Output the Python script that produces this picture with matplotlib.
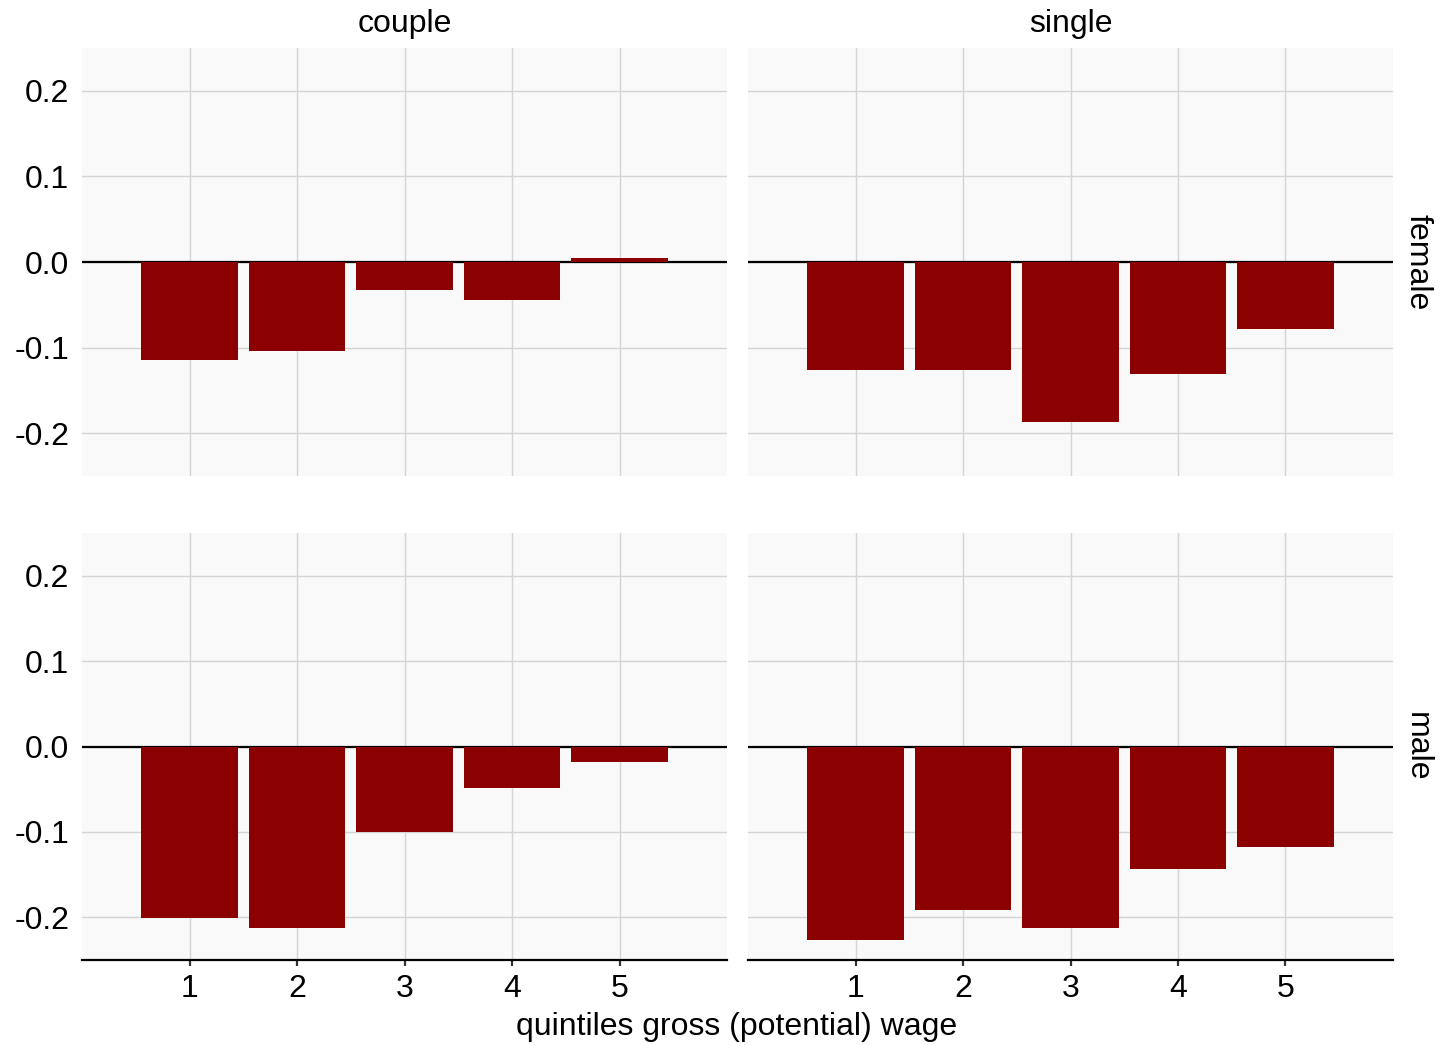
import matplotlib.pyplot as plt

plt.rcParams['font.family'] = ['Liberation Sans', 'DejaVu Sans']

quintiles = [1, 2, 3, 4, 5]
households = ["couple", "single"]
sexes = ["female", "male"]

# effect by wage quintile for each (sex, household) panel
couple_female = [-0.115, -0.104, -0.033, -0.044, 0.005]
single_female = [-0.126, -0.126, -0.187, -0.131, -0.078]
couple_male = [-0.201, -0.213, -0.100, -0.049, -0.018]
single_male = [-0.227, -0.191, -0.212, -0.144, -0.118]

panels = {
    ("female", "couple"): couple_female,
    ("female", "single"): single_female,
    ("male", "couple"): couple_male,
    ("male", "single"): single_male,
}

W, H = 1441, 1045
fig = plt.figure(figsize=(W / 100, H / 100), dpi=100)

col_x = [(82, 727), (748, 1393)]
row_y = [(48, 476), (533, 960)]

bar_color = "#8b0000"
panel_bg = "#f9f9f9"
grid_color = "#d4d4d4"
fs = 23

for r, sex in enumerate(sexes):
    for c, hh in enumerate(households):
        x0, x1 = col_x[c]
        y0, y1 = row_y[r]
        ax = fig.add_axes([x0 / W, 1 - y1 / H, (x1 - x0) / W, (y1 - y0) / H])
        ax.set_facecolor(panel_bg)
        ax.set_xlim(0, 6)
        ax.set_ylim(-0.25, 0.25)
        ax.set_xticks(quintiles)
        ax.set_yticks([-0.2, -0.1, 0.0, 0.1, 0.2])
        ax.grid(True, color=grid_color, linewidth=1.0)
        ax.set_axisbelow(True)
        for s in ax.spines.values():
            s.set_visible(False)

        ax.axhline(0, color="black", linewidth=1.6, zorder=2)
        ax.bar(quintiles, panels[(sex, hh)], width=0.9, color=bar_color, zorder=3)

        ax.tick_params(axis="y", length=0, labelsize=fs, pad=9)
        if c == 0:
            ax.set_yticklabels(["-0.2", "-0.1", "0.0", "0.1", "0.2"])
        else:
            ax.set_yticklabels([])

        if r == 1:
            ax.spines["bottom"].set_visible(True)
            ax.spines["bottom"].set_color("black")
            ax.spines["bottom"].set_linewidth(1.6)
            ax.tick_params(axis="x", length=4, width=1.6, color="#333333",
                           labelsize=fs, pad=6)
        else:
            ax.tick_params(axis="x", length=0, labelbottom=False)

        if r == 0:
            fig.text((x0 + x1) / 2 / W, 1 - 24 / H, hh, ha="center",
                     va="center", fontsize=fs)
        if c == 1:
            fig.text(1417 / W, 1 - (y0 + y1) / 2 / H, sex, ha="center",
                     va="center", rotation=-90, fontsize=fs)

fig.text(737 / W, 1 - 1027 / H, "quintiles gross (potential) wage",
         ha="center", va="center", fontsize=fs)

fig.savefig("out.png", dpi=100, facecolor="white")
